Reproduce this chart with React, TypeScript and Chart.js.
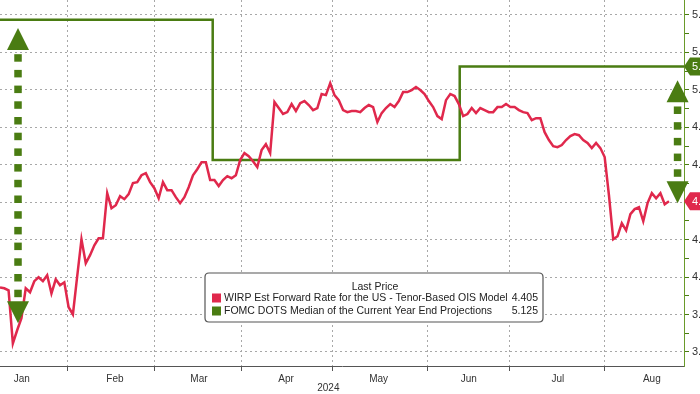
import React, { useEffect, useRef } from 'react';
import { Chart, registerables } from 'chart.js';

Chart.register(...registerables);

// ---------------- data ----------------
const wirpLabel = 'WIRP Est Forward Rate for the US - Tenor-Based OIS Model';
const dotsLabel = 'FOMC DOTS Median of the Current Year End Projections';

// daily (trading-day index) values of the WIRP implied year-end rate
const wirpValues = [
  3.945, 3.94, 3.929, 3.646, 3.716, 3.78, 3.94, 3.919, 3.978, 3.999,
  3.978, 4.01, 3.913, 3.988, 3.956, 3.972, 3.839, 3.801, 4.004, 4.202,
  4.074, 4.117, 4.17, 4.207, 4.207, 4.448, 4.368, 4.384, 4.432, 4.416,
  4.443, 4.502, 4.507, 4.544, 4.555, 4.507, 4.475, 4.421, 4.507, 4.464,
  4.464, 4.427, 4.395, 4.427, 4.48, 4.544, 4.576, 4.614, 4.614, 4.518,
  4.518, 4.486, 4.518, 4.539, 4.528, 4.544, 4.625, 4.662, 4.646, 4.619,
  4.587, 4.678, 4.71, 4.662, 4.935, 4.903, 4.871, 4.881, 4.924, 4.887,
  4.929, 4.94, 4.919, 4.892, 4.903, 4.978, 4.972, 5.036, 4.972, 4.945,
  4.892, 4.881, 4.887, 4.887, 4.881, 4.903, 4.919, 4.908, 4.828, 4.876,
  4.903, 4.924, 4.908, 4.94, 4.988, 4.988, 4.999, 5.015, 4.999, 4.978,
  4.94, 4.908, 4.86, 4.844, 4.945, 4.978, 4.967, 4.924, 4.86, 4.871,
  4.903, 4.876, 4.903, 4.892, 4.881, 4.881, 4.908, 4.908, 4.924, 4.908,
  4.908, 4.892, 4.881, 4.876, 4.838, 4.849, 4.849, 4.774, 4.732, 4.699,
  4.694, 4.705, 4.732, 4.753, 4.764, 4.758, 4.732, 4.716, 4.689, 4.716,
  4.689, 4.641, 4.437, 4.202, 4.218, 4.288, 4.25, 4.336, 4.363, 4.373,
  4.298, 4.395, 4.448, 4.421, 4.448, 4.389, 4.405,
];

// FOMC dots median: step changes (trading-day index, value)
const dotsX = [0, 49.6, 107.2, 159.5];
const dotsY = [5.375, 4.625, 5.125, 5.125];

const monthLabels = ['Jan', 'Feb', 'Mar', 'Apr', 'May', 'Jun', 'Jul', 'Aug'];
const monthCenters = [5.1, 26.8, 46.4, 66.7, 88.3, 109.3, 130.1, 152.0];
const monthStarts = [15.85, 36.1, 56.2, 77.6, 99.8, 118.9, 141.0];
const yearLabel = '2024';

const yMajorTicks = [3.6, 3.8, 4.0, 4.2, 4.4, 4.6, 4.8, 5.0, 5.2, 5.4];
const yMinorTicks = [3.7, 3.9, 4.1, 4.3, 4.5, 4.7, 4.9, 5.1, 5.3];

const X_MIN = 0;
const X_MAX = 159.5;
const Y_MIN = 3.525;
const Y_MAX = 5.48;

const legendTitle = 'Last Price';

// dotted double arrows (index, top value, bottom value)
const arrowX = [4.2, 158.0];
const arrowTop = [5.33, 5.052];
const arrowBottom = [3.753, 4.395];

// ---------------- styles ----------------
const RED = '#e0284c';
const GREEN = '#4a7c12';
const GRID = '#a8a8a8';
const FONT = '"Liberation Sans", Arial, sans-serif';

const near = (a: number, b: number) => Math.abs(a - b) < 1e-6;
const isMajorY = (v: number) => yMajorTicks.some((t) => near(t, v));
const isStartX = (v: number) => monthStarts.some((t) => near(t, v));

const arrowsPlugin = {
  id: 'arrows',
  afterDatasetsDraw(chart: any) {
    const { ctx, scales } = chart;
    const xs = scales.x;
    const ys = scales.y;
    ctx.save();
    ctx.fillStyle = GREEN;
    for (let k = 0; k < arrowX.length; k++) {
      const cx = xs.getPixelForValue(arrowX[k]);
      const top = ys.getPixelForValue(arrowTop[k]);
      const bot = ys.getPixelForValue(arrowBottom[k]);
      const tw = 11;
      const th = 22;
      ctx.beginPath();
      ctx.moveTo(cx, top);
      ctx.lineTo(cx - tw, top + th);
      ctx.lineTo(cx + tw, top + th);
      ctx.closePath();
      ctx.fill();
      ctx.beginPath();
      ctx.moveTo(cx, bot);
      ctx.lineTo(cx - tw, bot - th);
      ctx.lineTo(cx + tw, bot - th);
      ctx.closePath();
      ctx.fill();
      const a = top + th;
      const b = bot - th;
      const inner = b - a;
      const pitch = 15.7;
      const sq = 7.5;
      const n = Math.max(1, Math.round(inner / pitch));
      const off = (inner - n * pitch) / 2 + (pitch - sq) / 2;
      for (let i = 0; i < n; i++) {
        ctx.fillRect(cx - sq / 2, a + off + i * pitch, sq, sq);
      }
    }
    ctx.restore();
  },
};

const overlayPlugin = {
  id: 'overlay',
  afterDraw(chart: any) {
    const { ctx, chartArea, scales } = chart;
    const ys = scales.y;
    ctx.save();

    // last value tags on the right axis
    const tags = [
      { v: dotsY[dotsY.length - 1], c: GREEN, t: dotsY[dotsY.length - 1].toFixed(3) },
      { v: wirpValues[wirpValues.length - 1], c: RED, t: wirpValues[wirpValues.length - 1].toFixed(3) },
    ];
    for (const tag of tags) {
      const py = ys.getPixelForValue(tag.v);
      const x0 = chartArea.right;
      ctx.fillStyle = tag.c;
      ctx.beginPath();
      ctx.moveTo(x0, py);
      ctx.lineTo(x0 + 6, py - 9);
      ctx.lineTo(x0 + 40, py - 9);
      ctx.lineTo(x0 + 40, py + 9);
      ctx.lineTo(x0 + 6, py + 9);
      ctx.closePath();
      ctx.fill();
      ctx.fillStyle = '#ffffff';
      ctx.font = `11px ${FONT}`;
      ctx.textBaseline = 'middle';
      ctx.textAlign = 'left';
      ctx.fillText(tag.t, x0 + 8, py + 0.5);
    }

    // year label
    ctx.fillStyle = '#333333';
    ctx.font = `10px ${FONT}`;
    ctx.textAlign = 'center';
    ctx.textBaseline = 'middle';
    ctx.fillText(yearLabel, chartArea.left + (chartArea.right - chartArea.left) * 0.48, 388);

    // legend box
    const bx = 205;
    const by = 273;
    const bw = 338;
    const bh = 49;
    ctx.beginPath();
    const r = 4;
    ctx.moveTo(bx + r, by);
    ctx.lineTo(bx + bw - r, by);
    ctx.quadraticCurveTo(bx + bw, by, bx + bw, by + r);
    ctx.lineTo(bx + bw, by + bh - r);
    ctx.quadraticCurveTo(bx + bw, by + bh, bx + bw - r, by + bh);
    ctx.lineTo(bx + r, by + bh);
    ctx.quadraticCurveTo(bx, by + bh, bx, by + bh - r);
    ctx.lineTo(bx, by + r);
    ctx.quadraticCurveTo(bx, by, bx + r, by);
    ctx.closePath();
    ctx.fillStyle = '#ffffff';
    ctx.fill();
    ctx.strokeStyle = '#555555';
    ctx.lineWidth = 1.2;
    ctx.stroke();

    ctx.fillStyle = '#222222';
    ctx.font = `10.5px ${FONT}`;
    ctx.textAlign = 'center';
    ctx.fillText(legendTitle, 375, 287);

    const rows = [
      { c: RED, label: wirpLabel, val: wirpValues[wirpValues.length - 1].toFixed(3), y: 298 },
      { c: GREEN, label: dotsLabel, val: dotsY[dotsY.length - 1].toFixed(3), y: 311 },
    ];
    for (const row of rows) {
      ctx.fillStyle = row.c;
      ctx.fillRect(212, row.y - 4.5, 9, 9);
      ctx.fillStyle = '#222222';
      ctx.textAlign = 'left';
      ctx.fillText(row.label, 224, row.y);
      ctx.textAlign = 'right';
      ctx.fillText(row.val, 538, row.y);
    }
    ctx.restore();
  },
};

export default function App() {
  const canvasRef = useRef<HTMLCanvasElement | null>(null);

  useEffect(() => {
    const canvas = canvasRef.current;
    if (!canvas) return;
    const wirpData = wirpValues.map((v, i) => ({ x: i, y: v }));
    const dotsData = dotsX.map((x, i) => ({ x, y: dotsY[i] }));

    const chart = new Chart(canvas, {
      type: 'line',
      data: {
        datasets: [
          {
            label: wirpLabel,
            data: wirpData,
            borderColor: RED,
            backgroundColor: RED,
            borderWidth: 2.5,
            pointRadius: 0,
            tension: 0,
            order: 1,
          },
          {
            label: dotsLabel,
            data: dotsData,
            borderColor: GREEN,
            backgroundColor: GREEN,
            borderWidth: 2.5,
            pointRadius: 0,
            stepped: 'before',
            order: 2,
          },
        ],
      },
      options: {
        responsive: false,
        animation: false,
        devicePixelRatio: 1,
        layout: { padding: 0 },
        plugins: {
          legend: { display: false },
          tooltip: { enabled: false },
        },
        scales: {
          x: {
            type: 'linear',
            position: 'bottom',
            min: X_MIN,
            max: X_MAX,
            afterBuildTicks: (scale: any) => {
              const vals = [...monthStarts, ...monthCenters].sort((a, b) => a - b);
              scale.ticks = vals.map((v) => ({ value: v }));
            },
            afterFit: (scale: any) => {
              scale.height = 28;
              scale.paddingLeft = 0;
              scale.paddingRight = 0;
            },
            ticks: {
              autoSkip: false,
              maxRotation: 0,
              padding: 2,
              color: '#333333',
              font: { family: FONT, size: 10 },
              callback: (value: any) => {
                const idx = monthCenters.findIndex((c) => near(c, Number(value)));
                return idx >= 0 ? monthLabels[idx] : '';
              },
            },
            grid: {
              color: (c: any) => (c.tick && isStartX(c.tick.value) ? GRID : 'rgba(0,0,0,0)'),
              tickColor: (c: any) => (c.tick && isStartX(c.tick.value) ? '#555555' : 'rgba(0,0,0,0)'),
              tickLength: 5,
              lineWidth: 1,
            },
            border: { display: true, color: '#555555', width: 1, dash: [2, 3] },
          },
          y: {
            type: 'linear',
            position: 'right',
            min: Y_MIN,
            max: Y_MAX,
            afterBuildTicks: (scale: any) => {
              const vals = [...yMajorTicks, ...yMinorTicks].sort((a, b) => a - b);
              scale.ticks = vals.map((v) => ({ value: v }));
            },
            afterFit: (scale: any) => {
              scale.width = 16;
              scale.paddingTop = 0;
              scale.paddingBottom = 0;
            },
            ticks: {
              autoSkip: false,
              padding: 3,
              color: '#333333',
              font: { family: FONT, size: 11 },
              callback: (value: any) => (isMajorY(Number(value)) ? Number(value).toFixed(1) : ''),
            },
            grid: {
              color: (c: any) => (c.tick && isMajorY(c.tick.value) ? GRID : 'rgba(0,0,0,0)'),
              tickColor: GREEN,
              tickLength: 5,
              lineWidth: 1,
            },
            border: { display: true, color: '#6a9a2a', width: 1, dash: [2, 3] },
          },
        },
      },
      plugins: [arrowsPlugin, overlayPlugin],
    } as any);

    return () => chart.destroy();
  }, []);

  return (
    <div style={{ position: 'fixed', left: 0, top: 0, width: 700, height: 394, background: '#ffffff' }}>
      <canvas ref={canvasRef} width={700} height={394} style={{ display: 'block' }} />
    </div>
  );
}
